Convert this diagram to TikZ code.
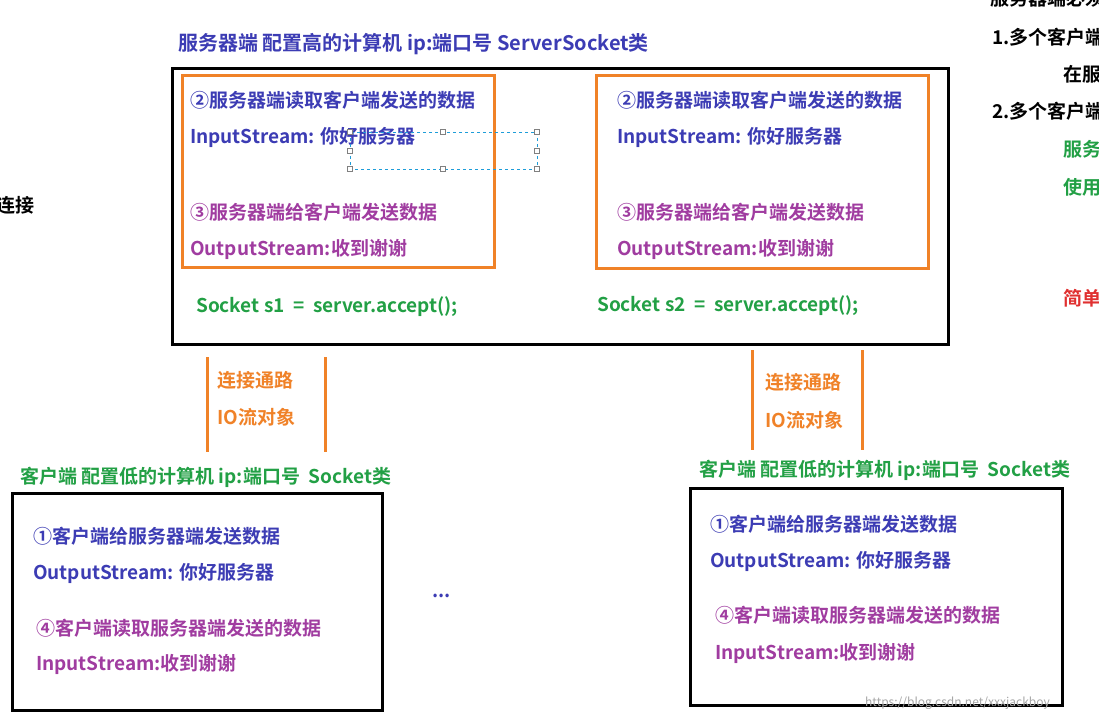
\documentclass[tikz,border=0pt]{standalone}
\usepackage{fontspec}
\setmainfont{Noto Sans CJK SC}[BoldFont={* Bold}]
\definecolor{tblue}{HTML}{3C3CB4}
\definecolor{tpurple}{HTML}{A03CA0}
\definecolor{tgreen}{HTML}{22A045}
\definecolor{torange}{HTML}{F08228}
\definecolor{tred}{HTML}{E03030}
\begin{document}
\begin{tikzpicture}[x=1pt,y=-1pt,
  txt/.style={anchor=west,inner sep=0pt,font=\fontsize{19}{21}\selectfont\bfseries},
  blk/.style={draw=black,line width=3pt},
  obox/.style={draw=torange,line width=3pt},
  oline/.style={draw=torange,line width=3pt},
  hnd/.style={draw=gray,fill=white,minimum size=5pt,inner sep=0pt,line width=0.8pt}]
\useasboundingbox (0,0) rectangle (1099,720);
\clip (0,0) rectangle (1099,720);
\fill[white] (0,0) rectangle (1099,720);
% server
\node[txt,text=tblue,font=\fontsize{20}{22}\selectfont\bfseries] (st) at (178,44) {服务器端 配置高的计算机 ip:端口号 ServerSocket类};
\draw[blk] (172,68) rectangle (948,344);
\draw[obox] (182,75) rectangle (494,267);
\draw[obox] (596,75) rectangle (928,268);
\node[txt,text=tblue] (a1) at (190,100) {②服务器端读取客户端发送的数据};
\node[txt,text=tblue] (a2) at (190,137) {InputStream: 你好服务器};
\node[txt,text=tpurple] (a3) at (190,212) {③服务器端给客户端发送数据};
\node[txt,text=tpurple] (a4) at (190,249) {OutputStream:收到谢谢};
\node[txt,text=tblue] (b1) at (617,100) {②服务器端读取客户端发送的数据};
\node[txt,text=tblue] (b2) at (617,137) {InputStream: 你好服务器};
\node[txt,text=tpurple] (b3) at (617,212) {③服务器端给客户端发送数据};
\node[txt,text=tpurple] (b4) at (617,249) {OutputStream:收到谢谢};
\node[txt,text=tgreen] (s1) at (196,307) {Socket s1 \ = \ server.accept();};
\node[txt,text=tgreen] (s2) at (597,306) {Socket s2 \ = \ server.accept();};
% selection frame
\draw[dashed,draw=tblue!50!cyan,line width=0.8pt] (350,132) rectangle (537,169);
\foreach \p in {(350,132),(443,132),(537,132),(350,151),(537,151),(350,169),(443,169),(537,169)}
  \node[hnd] at \p {};
% channels
\draw[oline] (207,357) -- (207,452);
\draw[oline] (325,357) -- (325,452);
\draw[oline] (752,350) -- (752,450);
\draw[oline] (862,350) -- (862,450);
\node[txt,text=torange] (c1) at (217,380) {连接通路};
\node[txt,text=torange] (c2) at (217,417) {IO流对象};
\node[txt,text=torange] (c3) at (765,382) {连接通路};
\node[txt,text=torange] (c4) at (765,420) {IO流对象};
% clients
\node[txt,text=tgreen] (ct1) at (20,477) {客户端 配置低的计算机 ip:端口号\ \ Socket类};
\node[txt,text=tgreen] (ct2) at (699,470) {客户端 配置低的计算机 ip:端口号\ \ Socket类};
\draw[blk] (12,493) rectangle (382,710);
\draw[blk] (690,488) rectangle (1062,705);
\node[txt,text=tblue] (d1) at (33,536) {①客户端给服务器端发送数据};
\node[txt,text=tblue] (d2) at (33,573) {OutputStream: 你好服务器};
\node[txt,text=tpurple] (d3) at (36,628) {④客户端读取服务器端发送的数据};
\node[txt,text=tpurple] (d4) at (36,664) {InputStream:收到谢谢};
\node[txt,text=tblue] (e1) at (710,524) {①客户端给服务器端发送数据};
\node[txt,text=tblue] (e2) at (710,561) {OutputStream: 你好服务器};
\node[txt,text=tpurple] (e3) at (715,615) {④客户端读取服务器端发送的数据};
\node[txt,text=tpurple] (e4) at (715,653) {InputStream:收到谢谢};
\node[txt,text=tblue] (dots) at (432,596) {...};
% side texts
\node[txt] (l1) at (-4,205) {连接};
\node[txt] (r0) at (990,-2) {服务器端必须};
\node[txt] (r1) at (992,37) {1.多个客户端};
\node[txt] (r2) at (1063,74) {在服务器};
\node[txt] (r3) at (992,111) {2.多个客户端};
\node[txt,text=tgreen] (r4) at (1063,149) {服务器};
\node[txt,text=tgreen] (r5) at (1063,187) {使用};
\node[txt,text=tred] (r6) at (1063,298) {简单};
\node[anchor=west,inner sep=0pt,text=gray!70,font=\fontsize{12}{13}\selectfont] (wm) at (865,703) {https://blog.csdn.net/xxxjackboy};
\end{tikzpicture}
\end{document}
